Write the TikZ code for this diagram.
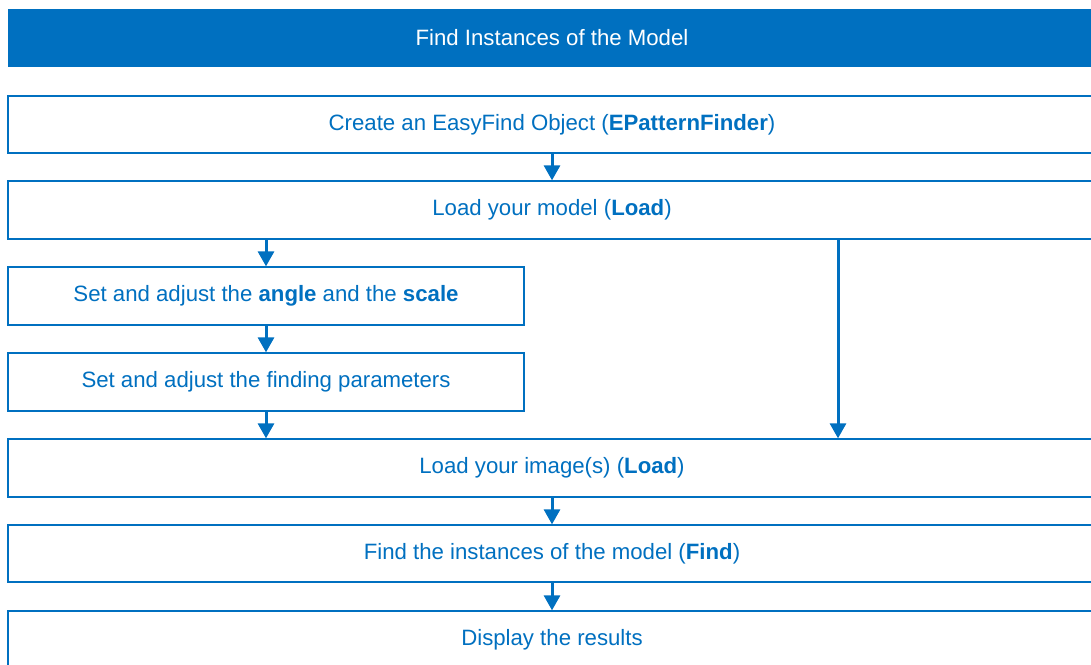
\documentclass[tikz,border=0pt]{standalone}
\usepackage{fontspec}
\setmainfont{Liberation Sans}
\usetikzlibrary{arrows.meta}
\definecolor{eblue}{HTML}{0070C0}
\begin{document}
\begin{tikzpicture}[x=1pt,y=-1pt,
  box/.style={draw=eblue,line width=1.3pt,fill=white,text=eblue,font=\fontsize{22.2}{26}\selectfont,inner sep=0pt},
  head/.style={fill=eblue,text=white,font=\fontsize{22.2}{26}\selectfont,inner sep=0pt},
  flow/.style={draw=eblue,line width=3pt,-{Triangle[length=15pt,width=16pt]},shorten >=0pt}]
\useasboundingbox (0,0) rectangle (1091,664);
\clip (0,0) rectangle (1091,664);
\node[head,minimum width=1088pt,minimum height=58pt] (h) at (552,38) {Find Instances of the Model};
\node[box,minimum width=1088pt,minimum height=57pt] (b1) at (552,124.5) {Create an EasyFind Object (\textbf{EPatternFinder})};
\node[box,minimum width=1088pt,minimum height=58pt] (b2) at (552,210) {Load your model (\textbf{Load})};
\node[box,minimum width=516pt,minimum height=58pt] (b3) at (266,296) {Set and adjust the \textbf{angle} and the \textbf{scale}};
\node[box,minimum width=516pt,minimum height=58pt] (b4) at (266,382) {Set and adjust the finding parameters};
\node[box,minimum width=1088pt,minimum height=58pt] (b5) at (552,468) {Load your image(s) (\textbf{Load})};
\node[box,minimum width=1088pt,minimum height=57pt] (b6) at (552,553.5) {Find the instances of the model (\textbf{Find})};
\node[box,minimum width=1088pt,minimum height=58pt] (b7) at (552,640) {Display the results};
\draw[flow] (b1.south) -- (b2.north);
\draw[flow] (b3.north |- b2.south) -- (b3.north);
\draw[flow] (b3.south) -- (b4.north);
\draw[flow] (b4.south) -- (b4.south |- b5.north);
\draw[flow] (838,239) coordinate (r1) -- (r1 |- b5.north);
\draw[flow] (b5.south) -- (b6.north);
\draw[flow] (b6.south) -- (b7.north);
\end{tikzpicture}
\end{document}
